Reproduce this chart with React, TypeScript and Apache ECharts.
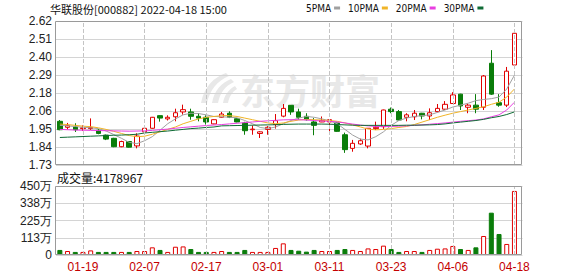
import React, { useEffect, useRef } from "react";
import * as echarts from "echarts";

const dates = [
  "01-14","01-17","01-18","01-19","01-20","01-21","01-24","01-25","01-26","01-27","01-28",
  "02-07","02-08","02-09","02-10","02-11","02-14","02-15","02-16","02-17","02-18","02-21","02-22","02-23","02-24","02-25","02-28",
  "03-01","03-02","03-03","03-04","03-07","03-08","03-09","03-10","03-11","03-14","03-15","03-16","03-17","03-18","03-21","03-22","03-23","03-24","03-25","03-28","03-29","03-30","03-31",
  "04-01","04-06","04-07","04-08","04-11","04-12","04-13","04-14","04-15","04-18",
];
const labelDates = ["01-19","02-07","02-17","03-01","03-11","03-23","04-06","04-18"];

const opens = [
  2.000,1.963,1.965,1.955,1.955,1.945,1.915,1.895,1.843,1.875,1.848,
  1.935,1.957,2.035,2.015,2.028,2.058,2.058,2.031,2.025,1.984,2.025,2.050,2.016,1.990,1.948,1.925,
  1.950,1.980,2.032,2.099,2.058,2.031,1.996,1.996,1.996,1.990,1.917,1.833,1.860,1.847,1.955,1.967,2.075,2.060,2.025,2.028,2.050,2.033,2.060,
  2.075,2.110,2.168,2.087,2.100,2.087,2.359,2.115,2.100,2.348,
];
const closes = [
  1.948,1.973,1.948,1.960,1.962,1.925,1.890,1.843,1.875,1.840,1.909,
  1.957,2.025,2.020,2.025,2.053,2.072,2.031,2.020,1.996,2.010,2.045,2.025,1.996,1.942,1.952,1.935,
  1.963,2.004,2.080,2.058,2.025,2.010,1.975,2.006,2.010,1.938,1.825,1.864,1.880,1.957,1.963,2.070,2.060,2.008,2.040,2.050,2.033,2.053,2.080,
  2.105,2.163,2.095,2.100,2.075,2.280,2.168,2.100,2.310,2.544,
];
const lows = [
  1.945,1.950,1.934,1.940,1.946,1.920,1.884,1.840,1.840,1.838,1.833,
  1.925,1.955,1.998,2.005,2.000,2.041,2.010,2.000,1.980,1.982,2.022,2.020,1.994,1.917,1.917,1.897,
  1.917,1.955,2.025,2.040,2.010,2.005,1.914,1.995,1.930,1.935,1.805,1.812,1.855,1.833,1.946,1.953,2.050,2.005,2.000,2.008,2.012,2.008,2.055,
  2.070,2.108,2.070,2.050,2.050,2.070,2.163,2.090,2.088,2.334,
];
const highs = [
  2.008,1.990,1.988,1.975,2.018,1.952,1.918,1.898,1.880,1.878,1.926,
  1.960,2.027,2.037,2.037,2.078,2.103,2.078,2.050,2.037,2.012,2.058,2.062,2.020,1.997,1.975,1.940,
  1.970,2.045,2.107,2.100,2.078,2.050,2.020,2.030,2.012,1.992,1.930,1.885,1.893,1.958,1.998,2.072,2.085,2.070,2.050,2.070,2.052,2.080,2.107,
  2.125,2.180,2.170,2.110,2.168,2.286,2.440,2.168,2.336,2.546,
];
const volumes = [
  330000,260000,200000,200000,300000,200000,200000,200000,200000,200000,260000,
  260000,500000,330000,200000,540000,560000,390000,200000,200000,200000,260000,200000,200000,330000,200000,200000,
  200000,460000,760000,330000,280000,220000,330000,260000,260000,330000,390000,330000,260000,430000,390000,610000,390000,200000,260000,260000,200000,330000,410000,
  430000,590000,390000,330000,500000,1240000,2760000,1370000,720000,4178967,
];
const ma5 = [
  1.975,1.972,1.968,1.963,1.960,1.955,1.940,1.918,1.895,1.870,1.862,
  1.880,1.905,1.945,1.985,2.015,2.040,2.050,2.048,2.040,2.030,2.028,2.025,2.022,2.005,1.985,1.962,
  1.955,1.965,1.985,2.005,2.020,2.030,2.025,2.015,2.003,1.985,1.950,1.915,1.890,1.885,1.905,1.935,1.975,2.005,2.020,2.030,2.035,2.040,2.055,
  2.070,2.088,2.100,2.112,2.128,2.135,2.140,2.150,2.200,2.285,
];
const ma10 = [
  1.983,1.980,1.975,1.970,1.967,1.960,1.950,1.938,1.925,1.912,1.905,
  1.908,1.920,1.935,1.950,1.965,1.985,2.000,2.015,2.025,2.030,2.035,2.035,2.030,2.020,2.010,2.000,
  1.990,1.985,1.990,2.000,2.008,2.012,2.010,2.008,2.005,2.000,1.990,1.978,1.965,1.952,1.947,1.950,1.955,1.962,1.968,1.980,1.995,2.010,2.025,
  2.038,2.050,2.060,2.070,2.080,2.090,2.105,2.118,2.150,2.200,
];
const ma20 = [
  1.950,1.948,1.946,1.945,1.944,1.943,1.942,1.941,1.940,1.939,1.940,
  1.941,1.944,1.948,1.952,1.957,1.962,1.966,1.970,1.974,1.977,1.980,1.984,1.988,1.992,1.996,2.000,
  2.003,2.006,2.009,2.010,2.010,2.008,2.005,2.002,2.000,1.996,1.990,1.983,1.977,1.972,1.968,1.967,1.968,1.970,1.972,1.975,1.978,1.982,1.986,
  1.990,1.995,2.000,2.004,2.008,2.015,2.028,2.040,2.070,2.118,
];
const ma30 = [
  1.900,1.902,1.904,1.906,1.908,1.910,1.912,1.914,1.915,1.917,1.920,
  1.928,1.932,1.936,1.940,1.945,1.950,1.955,1.958,1.962,1.965,1.972,1.973,1.974,1.975,1.976,1.977,
  1.978,1.979,1.981,1.982,1.983,1.983,1.983,1.983,1.982,1.980,1.978,1.976,1.975,1.975,1.975,1.975,1.975,1.975,1.976,1.976,1.977,1.978,1.980,
  1.984,1.990,1.995,2.000,2.005,2.012,2.022,2.030,2.042,2.058,
];
const priceTicks = ["1.73","1.84","1.95","2.06","2.18","2.29","2.40","2.51","2.62"];
const volumeTicks = ["0","113万","225万","338万","450万"];
const maNames = ["5PMA", "10PMA", "20PMA", "30PMA"];

const UP = "#e00000";
const DOWN = "#0a7d0a";

export default function App() {
  const ref = useRef<HTMLDivElement>(null);
  useEffect(() => {
    if (!ref.current) return;
    echarts.graphic.registerShape(
      "logo",
      echarts.graphic.extendPath(
        "M30 0 C18 4 8 14 5 30 L11 30 C14 17 21 8 33 3 Z M35 6 C25 10 18 18 16 30 L22 30 C24 20 29 13 38 9 Z M39 13 C32 17 28 23 27 30 L32 30 C33 24 36 19 41 16 Z",
        {}
      ) as any
    );
    const chart = echarts.init(ref.current, null, { renderer: "svg" });
    const pMin = 1.73, pMax = 2.62, pInt = (2.62 - 1.73) / 8;
    const vMax = 4500000, vInt = vMax / 4;
    const maColors = ["#a0a0a0", "#f0b428", "#e83ee0", "#0f6b35"];
    const mas = [ma5, ma10, ma20, ma30];
    const markLine = {
      symbol: "none",
      silent: true,
      label: { show: false },
      lineStyle: { type: "dashed", color: "#c4c4c4", width: 1 },
      data: labelDates.map((d) => ({ xAxis: d })),
    };
    const fontLatin = "'Liberation Sans', Arial, sans-serif";
    chart.setOption({
      animation: false,
      grid: [
        { left: 56, top: 21, width: 470, height: 144 },
        { left: 56, top: 186, width: 470, height: 69 },
      ],
      legend: {
        left: 306,
        top: 3,
        padding: 0,
        align: "right",
        itemWidth: 6,
        itemHeight: 3,
        itemGap: 8,
        icon: "rect",
        data: maNames,
        textStyle: {
          fontSize: 10,
          color: "#111",
          fontFamily: "'Liberation Sans Narrow', 'DejaVu Sans Condensed', 'Liberation Sans', sans-serif",
          padding: [0, -2, 0, 0],
        },
      },
      xAxis: [
        {
          type: "category",
          gridIndex: 0,
          data: dates,
          max: 60,
          axisLabel: { show: false },
          axisLine: { show: false },
          axisTick: { show: false },
          splitLine: { show: false },
        },
        {
          type: "category",
          gridIndex: 1,
          data: dates,
          max: 60,
          axisLine: { show: false },
          axisTick: { show: false },
          splitLine: { show: false },
          axisLabel: {
            interval: (_i: number, v: string) => labelDates.includes(v),
            color: "#c40000",
            fontSize: 12,
            margin: 6,
            fontFamily: fontLatin,
          },
        },
      ],
      yAxis: [
        {
          type: "value",
          gridIndex: 0,
          min: pMin,
          max: pMax,
          interval: pInt,
          axisLine: { show: false },
          axisTick: { show: false },
          splitLine: { lineStyle: { color: "#d4d4d4" } },
          axisLabel: {
            margin: 4,
            color: "#222",
            fontSize: 12,
            fontFamily: fontLatin,
            formatter: (v: number) => priceTicks[Math.round((v - pMin) / pInt)] ?? "",
          },
        },
        {
          type: "value",
          gridIndex: 1,
          min: 0,
          max: vMax,
          interval: vInt,
          axisLine: { show: false },
          axisTick: { show: false },
          splitLine: { lineStyle: { color: "#d4d4d4" } },
          axisLabel: {
            margin: 4,
            color: "#222",
            fontSize: 12,
            fontFamily: fontLatin,
            formatter: (v: number) => volumeTicks[Math.round(v / vInt)] ?? "",
          },
        },
      ],
      series: [
        {
          type: "candlestick",
          xAxisIndex: 0,
          yAxisIndex: 0,
          barWidth: 5,
          data: dates.map((_, i) => [opens[i], closes[i], lows[i], highs[i]]),
          itemStyle: {
            color: "#ffffff",
            color0: DOWN,
            borderColor: UP,
            borderColor0: DOWN,
            borderWidth: 1,
          },
          markLine,
          z: 3,
        },
        ...maNames.map((name, k) => ({
          type: "line",
          name,
          xAxisIndex: 0,
          yAxisIndex: 0,
          data: mas[k],
          showSymbol: false,
          symbol: "none",
          color: maColors[k],
          lineStyle: { width: 1, color: maColors[k] },
          z: 4,
        })),
        {
          type: "bar",
          xAxisIndex: 1,
          yAxisIndex: 1,
          barWidth: 5,
          data: volumes.map((v, i) => ({
            value: v,
            itemStyle:
              closes[i] >= opens[i]
                ? { color: "#ffffff", borderColor: UP, borderWidth: 1 }
                : { color: DOWN, borderColor: DOWN, borderWidth: 1 },
          })),
          markLine,
          z: 3,
        },
      ],
      graphic: [
        {
          type: "text",
          x: 50,
          y: 9,
          z: 10,
          style: {
            text: "华联股份[000882] 2022-04-18 15:00",
            fill: "#111",
            fontSize: 11,
            fontFamily: "'Noto Sans CJK SC', sans-serif",
            verticalAlign: "middle",
          },
        },
        {
          type: "text",
          x: 57,
          y: 177,
          z: 10,
          style: {
            text: "成交量:4178967",
            fill: "#111",
            fontSize: 12,
            fontFamily: "'Noto Sans CJK SC', sans-serif",
            verticalAlign: "middle",
          },
        },
        {
          type: "text",
          x: 240,
          y: 89,
          z: 0,
          silent: true,
          style: {
            text: "东方财富",
            fill: "#e8e8e8",
            fontSize: 35,
            fontWeight: "bold",
            fontFamily: "'Noto Sans CJK SC', sans-serif",
            verticalAlign: "middle",
          },
        },
        {
          type: "logo",
          x: 196,
          y: 73,
          z: 0,
          silent: true,
          style: { fill: "#e8e8e8" },
        },
        {
          type: "rect",
          z: 20,
          silent: true,
          shape: { x: 522.5, y: 14, width: 8, height: 246 },
          style: { fill: "#ffffff" },
        },
        {
          type: "rect",
          z: 21,
          silent: true,
          shape: { x: 55.5, y: 21.5, width: 466, height: 143 },
          style: { fill: "none", stroke: "#9a9a9a", lineWidth: 1 },
        },
        {
          type: "rect",
          z: 21,
          silent: true,
          shape: { x: 55.5, y: 186.5, width: 466, height: 68 },
          style: { fill: "none", stroke: "#9a9a9a", lineWidth: 1 },
        },
      ],
    });
    return () => chart.dispose();
  }, []);
  return (
    <div
      ref={ref}
      style={{ position: "fixed", left: 0, top: 0, width: 578, height: 276, background: "#fff" }}
    />
  );
}
